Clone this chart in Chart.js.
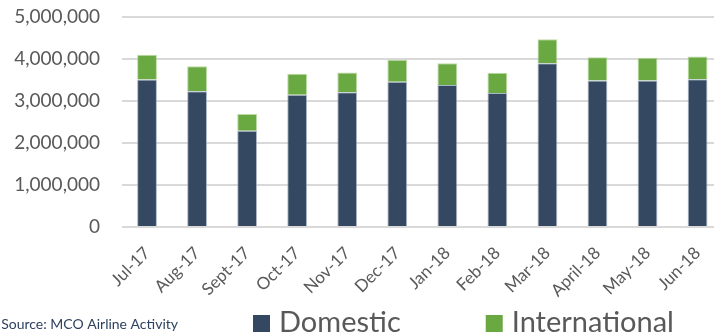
<!DOCTYPE html>
<html>
<head>
<meta charset="utf-8">
<script src="https://cdn.jsdelivr.net/npm/chart.js@4/dist/chart.umd.min.js"></script>
<style>
  html, body { margin: 0; padding: 0; background: #fff; overflow: hidden; }
  #wrap { width: 714px; height: 334px; overflow: hidden; }
</style>
</head>
<body>
<div id="wrap"><canvas id="chart" width="728" height="334"></canvas></div>
<script>
// monthly passenger counts, Jul 2017 - Jun 2018
const months = ["Jul-17", "Aug-17", "Sept-17", "Oct-17", "Nov-17", "Dec-17",
  "Jan-18", "Feb-18", "Mar-18", "April-18", "May-18", "Jun-18"];
const domestic = [3510000, 3230000, 2290000, 3150000, 3210000, 3460000,
  3380000, 3190000, 3900000, 3490000, 3490000, 3520000];
const international = [590000, 600000, 400000, 500000, 470000, 520000,
  520000, 480000, 570000, 550000, 540000, 540000];
const yTicks = [0, 1000000, 2000000, 3000000, 4000000, 5000000];
const sourceNote = "Source: MCO Airline Activity";

const GRAY = "#595959";
const FONT = "Lato, 'Open Sans', sans-serif";

// legend + source line drawn under the axis
const footer = {
  id: "footer",
  afterDraw(chart) {
    const ctx = chart.ctx;
    ctx.save();
    ctx.font = "14px " + FONT;
    ctx.fillStyle = "#2e4160";
    ctx.textAlign = "right";
    ctx.textBaseline = "alphabetic";
    ctx.fillText(sourceNote, 178, 329);

    ctx.font = "29px " + FONT;
    ctx.textAlign = "left";
    let x = 253;
    chart.data.datasets.forEach((ds) => {
      ctx.fillStyle = ds.backgroundColor;
      ctx.fillRect(x, 315, 17, 17);
      ctx.fillStyle = GRAY;
      ctx.fillText(ds.label, x + 26, 332);
      x += 26 + ctx.measureText(ds.label).width + 85;
    });
    ctx.restore();
  }
};

new Chart(document.getElementById("chart"), {
  type: "bar",
  data: {
    labels: months,
    datasets: [
      {
        label: "Domestic",
        data: domestic,
        backgroundColor: "#344861",
        borderColor: "rgba(150,165,185,0.8)",
        borderWidth: 1,
        categoryPercentage: 0.4,
        barPercentage: 0.99
      },
      {
        label: "International",
        data: international,
        backgroundColor: "#6aa842",
        borderColor: "rgba(170,210,140,0.8)",
        borderWidth: 1,
        categoryPercentage: 0.4,
        barPercentage: 0.99
      }
    ]
  },
  options: {
    responsive: false,
    animation: false,
    devicePixelRatio: 1,
    layout: { padding: { top: 17, left: 0, right: 0, bottom: 0 } },
    plugins: {
      legend: { display: false },
      tooltip: { enabled: false }
    },
    scales: {
      x: {
        stacked: true,
        grid: { display: false, drawTicks: false },
        border: { display: false },
        ticks: {
          color: GRAY,
          font: { family: FONT, size: 17 },
          minRotation: 45,
          maxRotation: 45,
          padding: 16,
          autoSkip: false
        },
        afterFit(scale) { scale.height = 107; }
      },
      y: {
        stacked: true,
        min: 0,
        max: 5000000,
        afterBuildTicks(scale) { scale.ticks = yTicks.map((v) => ({ value: v })); },
        // invisible tick marks keep the labels clear of the plot without extra top padding
        grid: { color: "#d9d9d9", lineWidth: 2, drawTicks: true, tickLength: 22, tickColor: "rgba(0,0,0,0)" },
        border: { display: false },
        ticks: {
          color: GRAY,
          font: { family: FONT, size: 19 },
          padding: 0,
          callback: (v) => v.toLocaleString("en-US")
        },
        afterFit(scale) { scale.width = 122; }
      }
    }
  },
  plugins: [footer]
});
</script>
</body>
</html>
